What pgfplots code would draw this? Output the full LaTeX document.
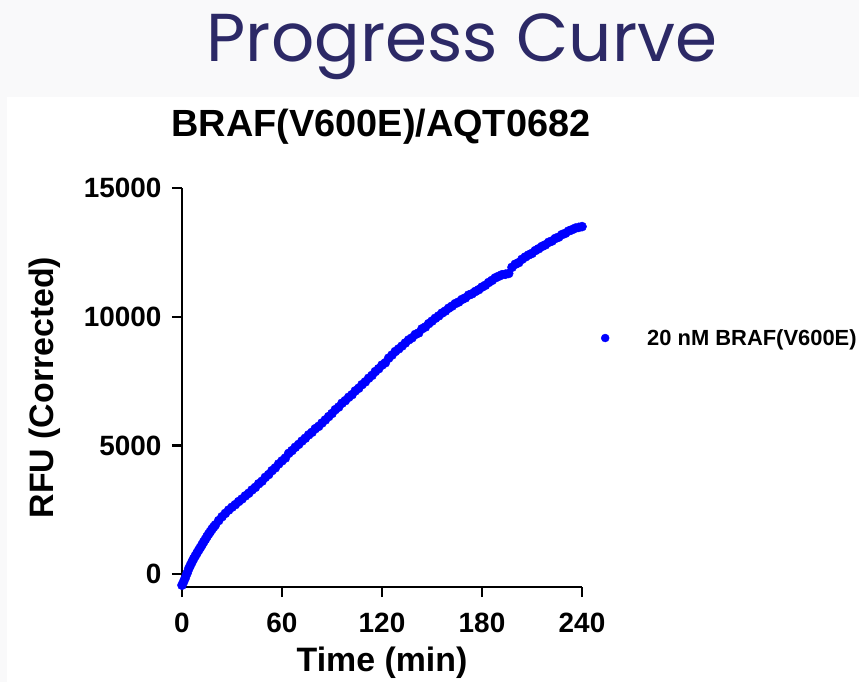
\documentclass[border=0pt]{standalone}
\usepackage{fontspec}
\setmainfont{Liberation Sans}
\newfontfamily\pop{Poppins}
\usepackage{pgfplots}
\pgfplotsset{compat=1.18}
\definecolor{navy}{HTML}{2C2966}
\definecolor{bggray}{HTML}{F9F9FA}
\begin{document}
\begin{tikzpicture}
\useasboundingbox (0,0) rectangle (859bp,682bp);
\fill[bggray] (0,0) rectangle (859bp,682bp);
\fill[white] (7bp,0) rectangle (859bp,585bp);
\node[anchor=base,text=navy,inner sep=0pt] at (462bp,620bp) {\fontsize{68}{72}\selectfont\pop Progress Curve};
\node[anchor=base,inner sep=0pt] at (381bp,545bp) {\fontsize{38}{40}\selectfont\bfseries BRAF(V600E)/AQT0682};
\begin{axis}[
  at={(182bp,95bp)}, anchor=south west,
  scale only axis, width=400bp, height=399bp,
  xmin=0, xmax=240, ymin=-500, ymax=15000,
  xtick={0,60,120,180,240}, ytick={0,5000,10000,15000},
  axis lines=left, axis line style={-, line width=2.4bp},
  tick style={line width=2.4bp, black},
  tick align=outside, major tick length=10bp,
  xtick pos=bottom, ytick pos=left,
  scaled ticks=false,
  /pgf/number format/.cd, 1000 sep={}, assume math mode=true, /pgfplots/.cd,
  ticklabel style={font=\fontsize{28}{30}\selectfont\bfseries},
  xticklabel style={yshift=-12bp},
  yticklabel style={xshift=-7bp},
  label style={font=\fontsize{34}{36}\selectfont\bfseries},
  xlabel={Time (min)}, ylabel={RFU (Corrected)},
  xlabel style={at={(axis description cs:0.5,0)}, anchor=base, yshift=-84bp},
  ylabel style={at={(axis description cs:-0.3425,0.5)}, anchor=center},
  legend style={draw=none, fill=none, at={(1.04,0.624)}, anchor=west,
    font=\fontsize{22}{24}\selectfont\bfseries,
    /tikz/every odd column/.append style={column sep=36bp}},
  legend image code/.code={\draw[#1, mark size=4bp] plot coordinates {(0bp,0bp)};},
  clip=false,
]
\addplot[only marks, mark=*, mark size=4.6bp, color=blue, mark options={draw=blue, fill=blue}] coordinates {
(0,-430)(1,-290)(2,-140)(3,30)(4,200)(5,340)(6,470)(7,600)(8,710)(9,820)
(10,930)(11,1030)(12,1140)(13,1250)(14,1350)(15,1460)(16,1560)(17,1650)(18,1750)(19,1830)
(20,1910)(22,2080)(24,2230)(26,2360)(28,2490)(30,2600)(32,2700)(34,2820)(36,2920)(38,3040)
(40,3140)(42,3270)(44,3370)(46,3510)(48,3610)(50,3760)(52,3870)(54,4020)(56,4130)(58,4280)
(60,4400)(62,4510)(64,4690)(66,4800)(68,4930)(70,5040)(72,5170)(74,5280)(76,5410)(78,5510)
(80,5650)(82,5740)(84,5870)(86,5990)(88,6120)(90,6240)(92,6390)(94,6490)(96,6640)(98,6740)
(100,6870)(102,6970)(104,7120)(106,7220)(108,7360)(110,7470)(112,7610)(114,7720)(116,7870)(118,7980)
(120,8120)(122,8210)(124,8390)(126,8510)(128,8650)(130,8750)(132,8860)(134,8980)(136,9100)(138,9180)
(140,9310)(142,9370)(144,9530)(146,9600)(148,9730)(150,9830)(152,9940)(154,10030)(156,10140)(158,10220)
(160,10330)(162,10410)(164,10510)(166,10570)(168,10670)(170,10730)(172,10840)(174,10890)(176,10980)(178,11050)
(180,11150)(182,11220)(184,11330)(186,11410)(188,11510)(190,11570)(192,11630)(194,11650)(196,11680)(198,11920)
(200,12040)(202,12100)(204,12230)(206,12320)(208,12400)(210,12460)(212,12570)(214,12640)(216,12730)(218,12790)
(220,12890)(222,12940)(224,13040)(226,13090)(228,13190)(230,13240)(232,13330)(234,13380)(236,13440)(238,13470)
(240,13500)
};
\addlegendentry{20 nM BRAF(V600E)}
\end{axis}
\end{tikzpicture}
\end{document}
